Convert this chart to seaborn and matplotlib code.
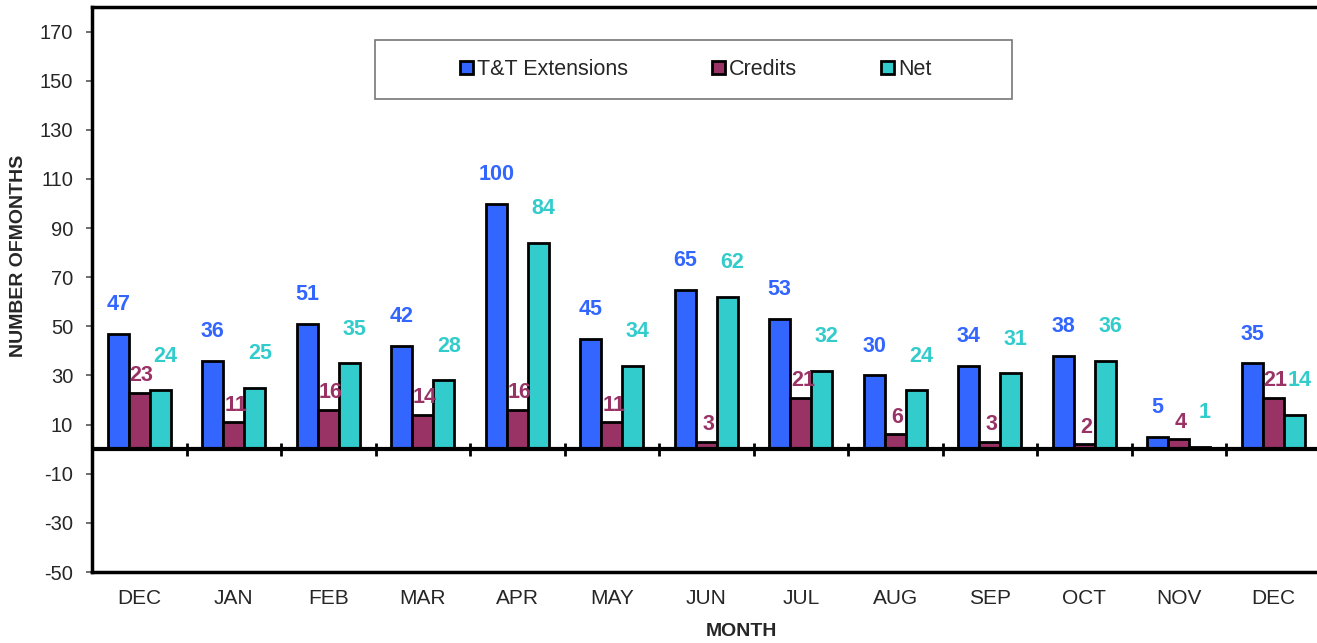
import matplotlib
matplotlib.use("Agg")
import matplotlib.pyplot as plt
import seaborn as sns
import pandas as pd
from matplotlib.patches import Patch, Rectangle

months = ["DEC", "JAN", "FEB", "MAR", "APR", "MAY", "JUN", "JUL", "AUG", "SEP", "OCT", "NOV", "DEC"]
extensions = [47, 36, 51, 42, 100, 45, 65, 53, 30, 34, 38, 5, 35]
credits = [23, 11, 16, 14, 16, 11, 3, 21, 6, 3, 2, 4, 21]
net = [24, 25, 35, 28, 84, 34, 62, 32, 24, 31, 36, 1, 14]
series_names = ["T&T Extensions", "Credits", "Net"]
y_ticks = list(range(-50, 171, 20))

colors = ["#3366FF", "#993366", "#33CCCC"]

sns.set_style("white")
plt.rcParams["font.family"] = ["Liberation Sans", "DejaVu Sans"]

rows = []
for i, m in enumerate(months):
    for name, vals in zip(series_names, [extensions, credits, net]):
        rows.append({"pos": i, "series": name, "value": vals[i]})
df = pd.DataFrame(rows)

W, H = 1317, 643
fig = plt.figure(figsize=(W / 100, H / 100), dpi=100)
ax = fig.add_axes([92 / W, 71 / H, 1228.5 / W, 565 / H])

sns.barplot(data=df, x="pos", y="value", hue="series", hue_order=series_names,
            palette=colors, width=0.67, edgecolor="black", linewidth=2,
            saturation=1, legend=False, ax=ax, order=list(range(len(months))))

ax.set_xlim(-0.5, len(months) - 0.5)
ax.set_ylim(-50, 180)
ax.set_yticks(y_ticks)
ax.set_yticklabels([str(t) for t in y_ticks], fontsize=14.5)
ax.set_xticks(range(len(months)))
ax.set_xticklabels(months, fontsize=15)
ax.tick_params(axis="x", length=0, pad=12)
ax.tick_params(axis="y", left=True, length=4.5, width=1.2, color="#555555", pad=9)

for side in ["left", "bottom", "top"]:
    ax.spines[side].set_linewidth(2.5)
    ax.spines[side].set_color("black")
ax.spines["right"].set_visible(False)

# zero line with category separators
ax.axhline(0, color="black", linewidth=3, zorder=5)
for b in range(1, len(months)):
    ax.plot([b - 0.5, b - 0.5], [-2.6, 2.6], color="black", linewidth=2, zorder=5,
            solid_capstyle="butt")

# value labels above each bar (pixel offsets per series)
offsets = [(0, 29), (2, 17), (5, 34)]
for container, vals, col, off in zip(ax.containers, [extensions, credits, net], colors, offsets):
    for bar, v in zip(container, vals):
        ax.annotate(str(v), (bar.get_x() + bar.get_width() / 2, bar.get_height()),
                    xytext=off, textcoords="offset pixels",
                    ha="center", va="center", color=col, fontsize=15.5,
                    fontweight="bold", zorder=6, annotation_clip=False)

ax.set_ylabel("NUMBER OFMONTHS", fontsize=14, fontweight="bold", va="center", ha="center")
ax.yaxis.set_label_coords((19 - 92) / 1228.5, (H - 256 - 71) / 565)
ax.set_xlabel("MONTH", fontsize=14, fontweight="bold", va="center", ha="center")
ax.xaxis.set_label_coords((741 - 92) / 1228.5, (H - 631 - 71) / 565)

# legend with its own rectangular frame
handles = [Patch(facecolor=c, edgecolor="black", linewidth=2) for c in colors]
leg = fig.legend(handles, series_names, loc="center", bbox_to_anchor=(696 / W, 1 - 69.5 / H),
                 ncol=3, fontsize=15.5, frameon=False,
                 handlelength=0.6, handleheight=0.6, handletextpad=0.2,
                 columnspacing=3.9, borderpad=0.2)
fig.patches.append(Rectangle((375 / W, 1 - 99 / H), 637 / W, 59 / H, transform=fig.transFigure,
                             facecolor="white", edgecolor="#777777", linewidth=1.2, zorder=0))

fig.savefig("out.png", dpi=100)
